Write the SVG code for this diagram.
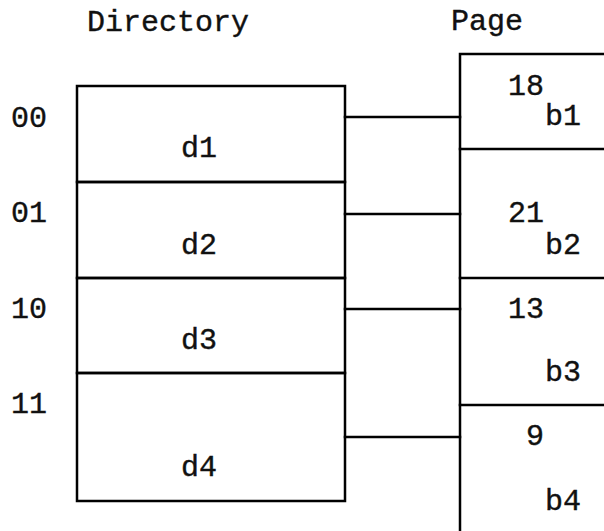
<svg xmlns="http://www.w3.org/2000/svg" width="604" height="531" viewBox="0 0 604 531">
  <style>
    .ln { stroke: #000; stroke-width: 2.5; fill: none; stroke-linecap: square; }
    .t { font-family: "Liberation Mono", "DejaVu Sans Mono", monospace; font-size: 30px; fill: #111; stroke: #111; stroke-width: 0.4; }
    .e { text-anchor: end; }
  </style>
  <rect width="604" height="531" fill="#fff"/>

  <!-- headings -->
  <text class="t" x="87" y="31">Directory</text>
  <text class="t" x="451" y="30">Page</text>

  <!-- directory entries with their hash prefixes -->
  <g id="dir-d1">
    <text class="t" x="11" y="127">00</text>
    <path class="ln" d="M77 86 H345 V182 H77 Z"/>
    <text class="t" x="181" y="157">d1</text>
  </g>
  <g id="dir-d2">
    <text class="t" x="11" y="222">01</text>
    <path class="ln" d="M77 182 H345 V278 H77 Z"/>
    <text class="t" x="181" y="254">d2</text>
  </g>
  <g id="dir-d3">
    <text class="t" x="11" y="318">10</text>
    <path class="ln" d="M77 278 H345 V373 H77 Z"/>
    <text class="t" x="181" y="349">d3</text>
  </g>
  <g id="dir-d4">
    <text class="t" x="11" y="413">11</text>
    <path class="ln" d="M77 373 H345 V501 H77 Z"/>
    <text class="t" x="181" y="476">d4</text>
  </g>

  <!-- pages (open on the right and bottom) -->
  <g id="page-b1">
    <path class="ln" d="M606 54 H460 V149 H606"/>
    <text class="t e" x="544" y="95">18</text>
    <text class="t" x="545" y="125">b1</text>
  </g>
  <g id="page-b2">
    <path class="ln" d="M460 149 V278 H606"/>
    <text class="t e" x="544" y="222">21</text>
    <text class="t" x="545" y="254">b2</text>
  </g>
  <g id="page-b3">
    <path class="ln" d="M460 278 V405 H606"/>
    <text class="t e" x="544" y="318">13</text>
    <text class="t" x="545" y="381">b3</text>
  </g>
  <g id="page-b4">
    <path class="ln" d="M460 405 V533"/>
    <text class="t e" x="544" y="445">9</text>
    <text class="t" x="545" y="510">b4</text>
  </g>

  <!-- directory-to-page pointers -->
  <g id="connectors">
    <line class="ln" x1="345" y1="117" x2="460" y2="117"/>
    <line class="ln" x1="345" y1="214" x2="460" y2="214"/>
    <line class="ln" x1="345" y1="309" x2="460" y2="309"/>
    <line class="ln" x1="345" y1="437" x2="460" y2="437"/>
  </g>
</svg>
